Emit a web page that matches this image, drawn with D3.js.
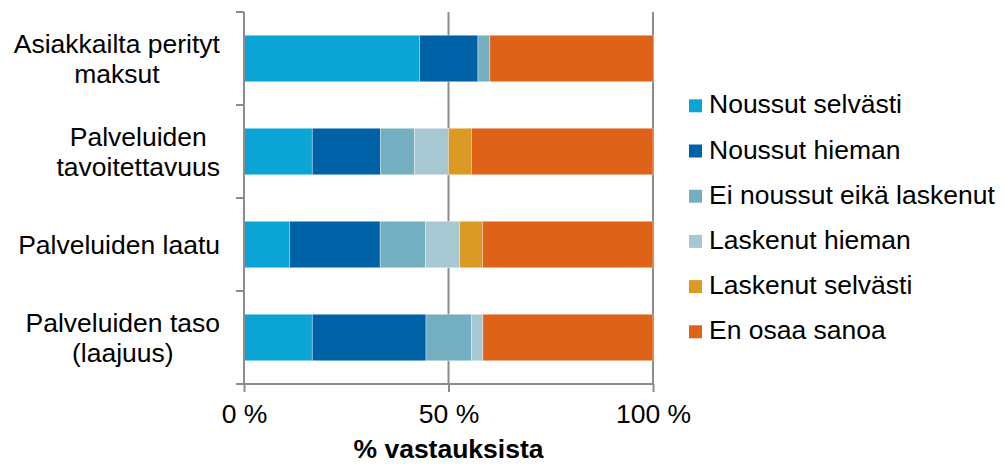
<!DOCTYPE html>
<html>
<head>
<meta charset="utf-8">
<script src="https://cdn.jsdelivr.net/npm/d3@7"></script>
<style>
  html, body { margin: 0; padding: 0; background: #fff; }
  svg { display: block; font-family: "Liberation Sans", Arial, sans-serif; }
</style>
</head>
<body>
<svg id="chart" width="1005" height="464"></svg>
<script>
// Survey categories (top to bottom) and their wrapped label lines
const categories = ["Asiakkailta perityt maksut", "Palveluiden tavoitettavuus", "Palveluiden laatu", "Palveluiden taso (laajuus)"];
const categoryLines = [["Asiakkailta perityt", "maksut"], ["Palveluiden", "tavoitettavuus"], ["Palveluiden laatu"], ["Palveluiden taso", "(laajuus)"]];

// Answer shares, % of responses, one array per answer option
const noussutSelvasti  = [42.9, 16.7, 11.1, 16.7];
const noussutHieman    = [14.3, 16.7, 22.2, 27.8];
const eiNoussut        = [2.9, 8.3, 11.1, 11.1];
const laskenutHieman   = [0, 8.3, 8.3, 2.8];
const laskenutSelvasti = [0, 5.6, 5.6, 0];
const enOsaaSanoa      = [40.0, 44.4, 41.7, 41.6];

const seriesNames = ["Noussut selvästi", "Noussut hieman", "Ei noussut eikä laskenut", "Laskenut hieman", "Laskenut selvästi", "En osaa sanoa"];
const seriesValues = [noussutSelvasti, noussutHieman, eiNoussut, laskenutHieman, laskenutSelvasti, enOsaaSanoa];
const seriesColors = ["#0aa5d5", "#0062a6", "#74aec1", "#a6c8d2", "#db9925", "#de6319"];

const xTicks = [0, 50, 100];
const xTitle = "% vastauksista";

const svg = d3.select("#chart");
const fontSize = 26.5;
const gridColor = "#8c8c8c";

const x = d3.scaleLinear().domain([0, 100]).range([244, 653]);
const y = d3.scaleBand().domain(categories).range([12, 384]).paddingInner(0.5).paddingOuter(0.25);

// Vertical gridlines (behind bars)
svg.append("g").selectAll("line")
  .data(xTicks.filter(d => d > 0))
  .join("line")
  .attr("x1", d => x(d)).attr("x2", d => x(d))
  .attr("y1", y.range()[0]).attr("y2", y.range()[1])
  .attr("stroke", gridColor).attr("stroke-width", 2);

// Stacked bars
const rows = categories.map((c, i) => {
  const r = { category: c };
  seriesNames.forEach((s, j) => { r[s] = seriesValues[j][i]; });
  return r;
});
const stack = d3.stack().keys(seriesNames)(rows);

svg.append("g").selectAll("g")
  .data(stack)
  .join("g")
  .attr("fill", (d, i) => seriesColors[i])
  .selectAll("rect")
  .data(d => d.filter(p => p[1] - p[0] > 0))
  .join("rect")
  .attr("x", p => x(p[0]))
  .attr("width", p => x(p[1]) - x(p[0]))
  .attr("y", p => y(p.data.category))
  .attr("height", y.bandwidth())
  .attr("stroke", "rgba(255,255,255,0.45)")
  .attr("stroke-width", 0.8);

// Category axis: vertical line with ticks on band boundaries
const step = y.step();
const boundaries = categories.map(c => y(c) - step * y.paddingInner() / 2).concat([y.range()[1]]);
const yAxis = svg.append("g");
yAxis.append("line")
  .attr("x1", x(0)).attr("x2", x(0))
  .attr("y1", y.range()[0]).attr("y2", y.range()[1])
  .attr("stroke", gridColor).attr("stroke-width", 2);
yAxis.selectAll("line.tick")
  .data(boundaries)
  .join("line")
  .attr("class", "tick")
  .attr("x1", x(0) - 8).attr("x2", x(0))
  .attr("y1", d => d).attr("y2", d => d)
  .attr("stroke", gridColor).attr("stroke-width", 2);

// Category labels: each block right-aligned, lines centered within the block
const labelRight = 220;
const lineH = 30;
categories.forEach((c, i) => {
  const lines = categoryLines[i];
  const g = svg.append("g");
  const texts = g.selectAll("text")
    .data(lines)
    .join("text")
    .attr("font-size", fontSize)
    .attr("fill", "#000")
    .attr("text-anchor", "middle")
    .text(d => d);
  const maxW = d3.max(texts.nodes(), n => n.getComputedTextLength());
  const cy = y(c) + y.bandwidth() / 2;
  const first = cy - (lines.length - 1) * lineH / 2 + 0.34 * fontSize;
  texts.attr("x", labelRight - maxW / 2).attr("y", (d, k) => first + k * lineH);
});

// Value axis
const xAxis = d3.axisBottom(x)
  .tickValues(xTicks)
  .tickFormat(d => d + " %")
  .tickSize(8)
  .tickPadding(12);
const xg = svg.append("g").attr("transform", `translate(0,${y.range()[1]})`).call(xAxis);
xg.select(".domain").remove();
xg.selectAll(".tick line").attr("stroke", gridColor).attr("stroke-width", 2);
xg.selectAll(".tick text").attr("font-size", fontSize).attr("fill", "#000")
  .attr("font-family", "Liberation Sans, Arial, sans-serif");
xg.append("line")
  .attr("x1", x(0) - 8).attr("x2", x(100))
  .attr("y1", 0).attr("y2", 0)
  .attr("stroke", gridColor).attr("stroke-width", 2);

svg.append("text")
  .attr("x", x(50)).attr("y", 458)
  .attr("text-anchor", "middle")
  .attr("font-size", fontSize)
  .attr("font-weight", "bold")
  .attr("fill", "#000")
  .text(xTitle);

// Legend
const legend = svg.append("g").selectAll("g")
  .data(seriesNames)
  .join("g")
  .attr("transform", (d, i) => `translate(689,${113.3 + i * 45.2})`);
legend.append("rect")
  .attr("x", 0).attr("y", -14)
  .attr("width", 13).attr("height", 13)
  .attr("fill", (d, i) => seriesColors[i]);
legend.append("text")
  .attr("x", 20).attr("y", 0)
  .attr("font-size", fontSize)
  .attr("fill", "#000")
  .text(d => d);
</script>
</body>
</html>
